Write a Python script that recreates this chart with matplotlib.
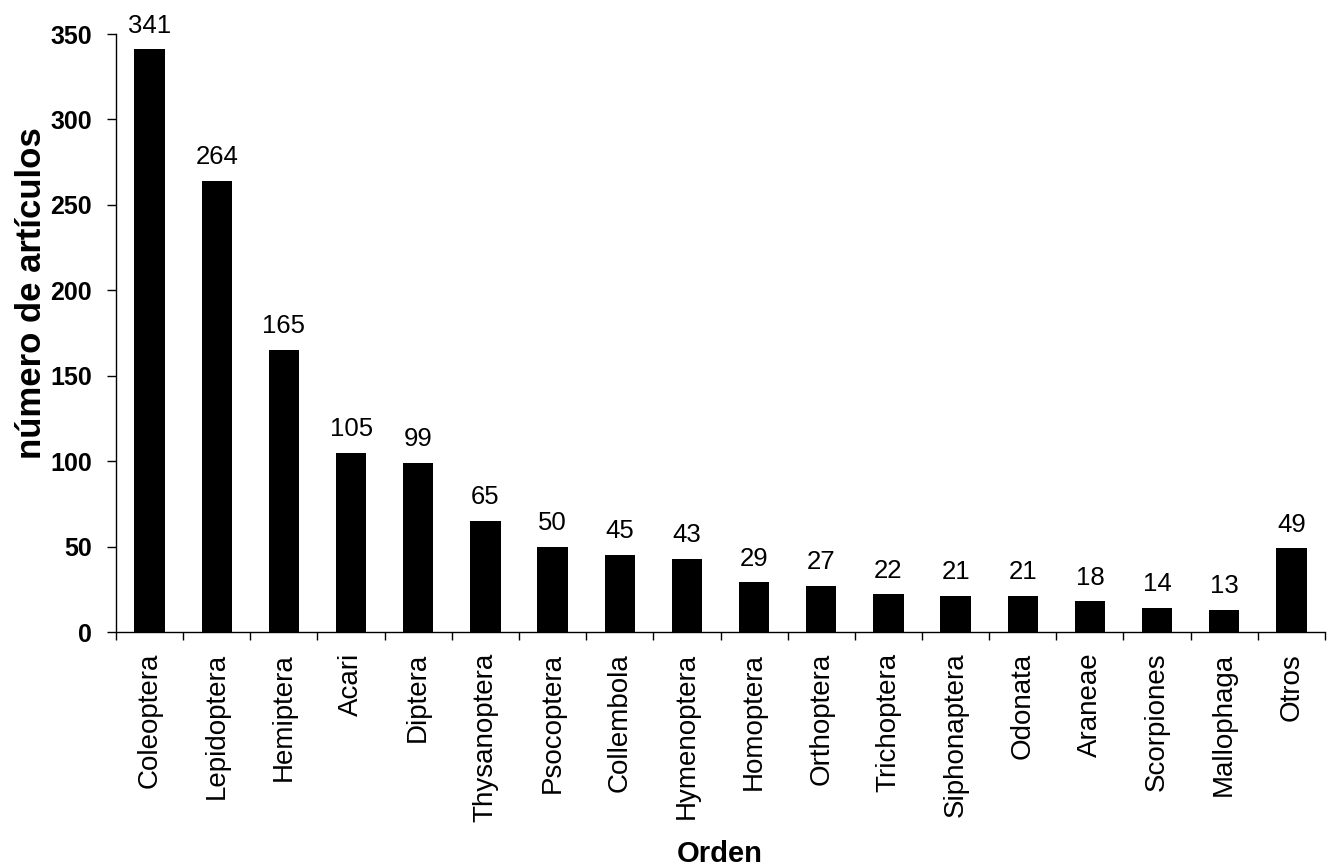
import numpy as np
import matplotlib.pyplot as plt

plt.rcParams["font.family"] = ["Liberation Sans", "DejaVu Sans"]

ordenes = [
    "Coleoptera", "Lepidoptera", "Hemiptera", "Acari", "Diptera",
    "Thysanoptera", "Psocoptera", "Collembola", "Hymenoptera", "Homoptera",
    "Orthoptera", "Trichoptera", "Siphonaptera", "Odonata", "Araneae",
    "Scorpiones", "Mallophaga", "Otros",
]
articulos = [341, 264, 165, 105, 99, 65, 50, 45, 43, 29, 27, 22, 21, 21, 18, 14, 13, 49]
y_ticks = [0, 50, 100, 150, 200, 250, 300, 350]

W, H = 1328, 867
fig = plt.figure(figsize=(W / 100, H / 100), dpi=100)
ax = fig.add_axes([116 / W, 1 - 632 / H, 1209 / W, 598 / H])

x = np.arange(len(ordenes))
bars = ax.bar(x, articulos, width=0.45, color="black")

for rect, val in zip(bars, articulos):
    ax.annotate(str(val), (rect.get_x() + rect.get_width() / 2, rect.get_height()),
                xytext=(0, 12), textcoords="offset points",
                ha="center", va="baseline", fontsize=18.5)

ax.set_xlim(-0.5, len(ordenes) - 0.5)
ax.set_ylim(0, 350)
ax.set_yticks(y_ticks)
ax.set_yticklabels([str(t) for t in y_ticks], fontsize=18, fontweight="bold")

# category labels centred on bars, tick marks on the boundaries between them
ax.set_xticks(x)
ax.set_xticklabels(ordenes, rotation=90, fontsize=20)
ax.tick_params(axis="x", which="major", length=0, pad=15)
ax.set_xticks(np.arange(len(ordenes) + 1) - 0.5, minor=True)
ax.tick_params(axis="x", which="minor", length=5.5, width=1, direction="out")
ax.tick_params(axis="y", length=6.5, width=1, direction="out", pad=11)

for side in ("top", "right"):
    ax.spines[side].set_visible(False)
for side in ("left", "bottom"):
    ax.spines[side].set_linewidth(1)

fig.text(32 / W, 1 - 293 / H, "número de artículos", rotation=90,
         ha="center", va="center", fontsize=25, fontweight="bold")
fig.text(720 / W, 1 - 854 / H, "Orden",
         ha="center", va="center", fontsize=21, fontweight="bold")

fig.savefig("out.png", dpi=100)
